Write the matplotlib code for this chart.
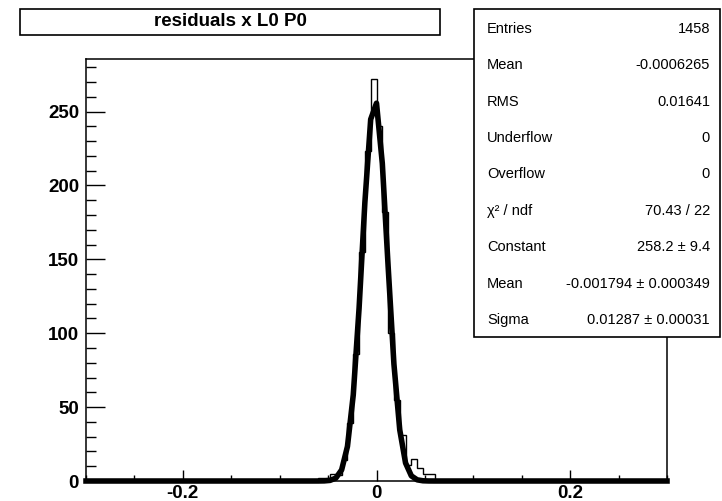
"""Residuals histogram with gaussian fit, drawn in the ROOT style."""

import numpy as np
import matplotlib
matplotlib.use('Agg')
import matplotlib.pyplot as plt
from matplotlib.patches import Rectangle
from matplotlib.ticker import MultipleLocator


# ================================== data ====================================

title = 'residuals x L0 P0'

# bin centres and counts (bin width 0.006)
bin_centers = [-0.075, -0.069, -0.063, -0.057, -0.051,
               -0.045, -0.039, -0.033, -0.027, -0.021, -0.015, -0.009,
               -0.003, 0.003, 0.009, 0.015, 0.021, 0.027, 0.033, 0.039,
               0.045, 0.051, 0.057]
bin_counts = [1, 1, 1, 2, 2,
              5, 4, 14, 39, 86, 155, 223,
              272, 240, 182, 100, 55, 31, 11, 15,
              9, 5, 5]

x_range = (-0.3, 0.3)
n_bins = 100

# gaussian fit parameters, from the stats box
fit_constant = 258.2
fit_mean = -0.001794
fit_sigma = 0.01287

stat_labels = ['Entries', 'Mean', 'RMS', 'Underflow', 'Overflow',
               'χ² / ndf', 'Constant', 'Mean', 'Sigma']
stat_values = ['1458', '-0.0006265', '0.01641', '0', '0',
               '70.43 / 22', '258.2 ± 9.4', '-0.001794 ± 0.000349',
               '0.01287 ± 0.00031']


# ================================= figure ===================================

plt.rcParams['font.family'] = ['Liberation Sans', 'DejaVu Sans']

W, H = 722, 501
fig = plt.figure(figsize=(W / 100, H / 100), dpi=100)


def fx(px):
    return px / W


def fy(py):
    return 1 - py / H


ax = fig.add_axes([fx(86), fy(481), fx(667) - fx(86), fy(59) - fy(481)])

edges = np.linspace(x_range[0], x_range[1], n_bins + 1)
counts, _ = np.histogram(bin_centers, bins=edges, weights=bin_counts)

ax.stairs(counts, edges, color='black', linewidth=1.0, zorder=2)

# fit function sampled like ROOT (npx = 100)
xf = np.linspace(x_range[0], x_range[1], 101)
yf = fit_constant * np.exp(-0.5 * ((xf - fit_mean) / fit_sigma) ** 2)
ax.plot(xf, yf, color='black', linewidth=4.0, zorder=3, clip_on=False)

ax.set_xlim(*x_range)
ax.set_ylim(0, 1.05 * max(bin_counts))

ax.xaxis.set_major_locator(MultipleLocator(0.2))
ax.xaxis.set_minor_locator(MultipleLocator(0.05))
ax.yaxis.set_major_locator(MultipleLocator(50))
ax.yaxis.set_minor_locator(MultipleLocator(10))
ax.xaxis.set_major_formatter(plt.FuncFormatter(lambda v, p: '%g' % round(v, 3)))

ax.tick_params(axis='both', which='both', direction='in', width=1.0,
               top=False, right=False, labelsize=13.5)
ax.tick_params(axis='y', which='major', length=13.5, pad=5)
ax.tick_params(axis='y', which='minor', length=7)
ax.tick_params(axis='x', which='major', length=8, pad=3)
ax.tick_params(axis='x', which='minor', length=4.3)
for lbl in ax.get_xticklabels() + ax.get_yticklabels():
    lbl.set_fontweight('bold')
for sp in ax.spines.values():
    sp.set_linewidth(1.1)

# ================================ title box =================================

fig.add_artist(Rectangle((fx(20), fy(35)), fx(440) - fx(20), fy(9) - fy(35),
                         transform=fig.transFigure, facecolor='white',
                         edgecolor='black', linewidth=1.2))
fig.text(fx(230), fy(22), title, ha='center', va='center',
         fontsize=13.5, fontweight='bold')

# ================================ stats box =================================

box_top, box_bottom = 9, 337
fig.add_artist(Rectangle((fx(474), fy(box_bottom)), fx(720) - fx(474),
                         fy(box_top) - fy(box_bottom),
                         transform=fig.transFigure, facecolor='white',
                         edgecolor='black', linewidth=1.2, zorder=5))
row_h = (box_bottom - box_top) / len(stat_labels)
for i, (lab, val) in enumerate(zip(stat_labels, stat_values)):
    yy = box_top + row_h * (i + 0.5) + 1.5
    fig.text(fx(487), fy(yy), lab, ha='left', va='center', fontsize=10.5,
             zorder=6)
    fig.text(fx(710), fy(yy), val, ha='right', va='center', fontsize=10.5,
             zorder=6)

fig.savefig('out.png', dpi=100)
